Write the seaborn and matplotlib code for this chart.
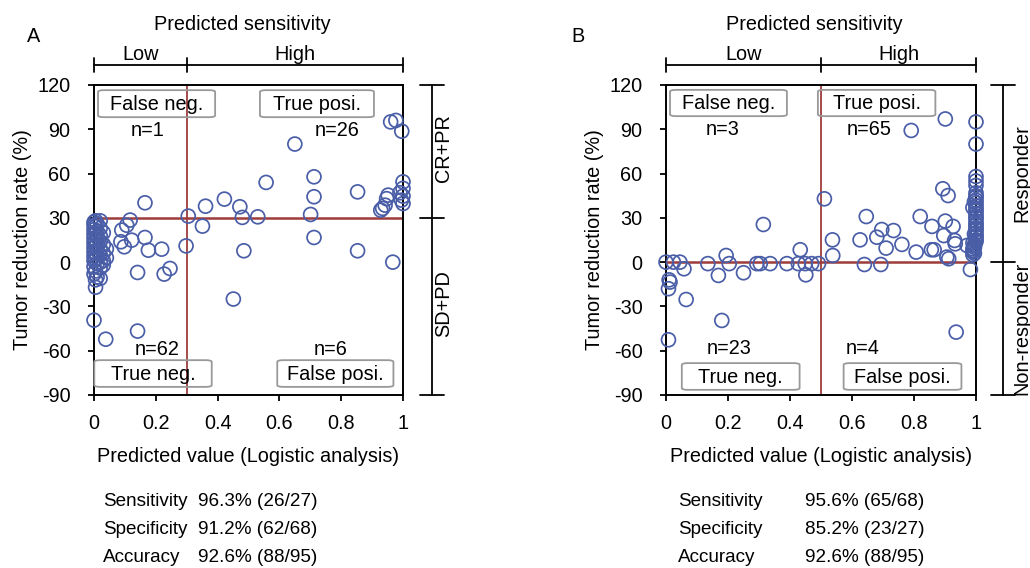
import numpy as np
import pandas as pd
import matplotlib
matplotlib.use("Agg")
import matplotlib.pyplot as plt
import seaborn as sns
from matplotlib.patches import FancyBboxPatch

# ---- data: panel A (cut-off 0.3 / 30 %) ----
a_pred = [
    # dense cluster near 0
    0, 0, 0, 0, 0, 0, 0, 0, 0, 0, 0, 0,
    0.005, 0.005, 0.005, 0.005, 0.005, 0.005, 0.005, 0.005, 0.005, 0.005,
    0.01, 0.01, 0.01, 0.01, 0.01, 0.01, 0.01, 0.01,
    0.02, 0.02, 0.02, 0.02, 0.02, 0.02, 0.02, 0.02, 0.02,
    0.03, 0.03, 0.03, 0.03, 0.03,
    0.04, 0.04,
    # other true negatives
    0.09, 0.106, 0.117, 0.087, 0.098, 0.122, 0.165, 0.176, 0.219, 0.141,
    0.227, 0.246, 0.298, 0.141, 0.038, 0.0,
    # false negative
    0.165,
    # true positives
    0.305, 0.361, 0.422, 0.472, 0.48, 0.53, 0.557, 0.65, 0.701, 0.712, 0.712,
    0.853, 0.928, 0.934, 0.942, 0.947, 0.952, 0.96, 0.977, 0.996,
    1.0, 1.0, 1.0, 1.0, 0.99, 0.995,
    # false positives
    0.351, 0.485, 0.451, 0.712, 0.853, 0.967,
]
a_red = [
    27, 25, 22, 19, 16, 13, 10, 7, 4, 1, -3, -8,
    28, 24, 20, 15, 11, 6, 2, -6, -12, -17,
    26, 21, 17, 12, 8, 3, -1, -10,
    28, 23, 18, 14, 9, 5, 0, -4, -11,
    20, 12, 6, 1, -2,
    9, 3,
    21.7, 25, 28.5, 13.8, 10.4, 14.9, 16.7, 8.1, 8.8, -7,
    -8.1, -4.3, 11, -46.7, -52.2, -39.3,
    40.2,
    31.2, 37.9, 42.7, 37.5, 30.3, 30.7, 54, 80, 32.3, 44.3, 57.8,
    47.6, 35.2, 36.4, 38.6, 43, 45.4, 95, 96, 88.7,
    54.4, 50, 44.7, 39.7, 47, 42,
    24.4, 7.7, -25, 16.7, 7.7, 0,
]

# ---- data: panel B (cut-off 0.5 / 0 %) ----
b_pred = [
    # true negatives
    0, 0.01, 0.013, 0.008, 0.008, 0.024, 0.045, 0.058, 0.065, 0.135, 0.169,
    0.204, 0.18, 0.25, 0.293, 0.304, 0.336, 0.39, 0.427, 0.449, 0.451, 0.47, 0.492,
    # false negatives
    0.194, 0.314, 0.433,
    # true positives
    0.511, 0.537, 0.538, 0.626, 0.646, 0.68, 0.696, 0.71, 0.734, 0.761, 0.791,
    0.807, 0.82, 0.858, 0.856, 0.865, 0.893, 0.901, 0.91, 0.901, 0.896, 0.906,
    0.912, 0.926, 0.931, 0.933, 0.971,
    1.0, 1.0, 1.0, 1.0, 1.0, 1.0, 1.0, 1.0, 1.0, 1.0, 1.0, 1.0, 1.0,
    1.0, 1.0, 1.0, 1.0, 1.0, 1.0, 1.0, 1.0, 1.0, 1.0, 1.0, 1.0, 1.0,
    0.995, 0.995, 0.995, 0.99, 0.99, 0.99, 0.995, 0.99, 0.995, 0.99, 0.995, 0.99,
    # false positives
    0.64, 0.693, 0.936, 0.982,
]
b_red = [
    0, -12, -13.5, -18, -52.6, 0, 0, -4.5, -25.3, -1, -9,
    -1, -39.5, -7.2, -1, -1, -1, -1, -1, -1, -8.6, -1, -1,
    4.5, 25.5, 8.4,
    42.9, 15.1, 4.5, 15.1, 30.9, 16.9, 22.1, 9.5, 21.4, 12, 89.2,
    6.8, 30.9, 24.2, 8.4, 8.4, 49.7, 97, 45.1, 27.8, 18, 3.4,
    2.3, 24.2, 14.7, 12.4, 11.3,
    95, 80, 58, 55, 52, 47, 45, 44, 42, 40, 38, 36, 35,
    33, 31, 30, 28, 26, 25, 23, 22, 20, 18, 17, 15, 14,
    12, 11, 10, 9, 8, 7, 6, 5, 41, 37, 19, 13,
    -1.6, -1.6, -47.4, -5,
]

quad_names = ["False neg.", "True posi.", "True neg.", "False posi."]
a_counts = ["n=1", "n=26", "n=62", "n=6"]
b_counts = ["n=3", "n=65", "n=23", "n=4"]
a_groups = ["CR+PR", "SD+PD"]
b_groups = ["Responder", "Non-responder"]
stat_names = ["Sensitivity", "Specificity", "Accuracy"]
a_stats = ["96.3% (26/27)", "91.2% (62/68)", "92.6% (88/95)"]
b_stats = ["95.6% (65/68)", "85.2% (23/27)", "92.6% (88/95)"]

BLUE = "#4a5ea8"
RED = "#9e3b3b"
FS = 14.3

sns.set_style("ticks")
plt.rcParams['font.family'] = ['Liberation Sans', 'DejaVu Sans']
plt.rcParams['axes.unicode_minus'] = False
for key in ["text.color", "axes.labelcolor", "xtick.color", "ytick.color"]:
    plt.rcParams[key] = "black"

fig = plt.figure(figsize=(10.3, 5.68), dpi=100)
axA = fig.add_axes([94 / 1030, 1 - 395 / 568, 309 / 1030, 310 / 568])
axB = fig.add_axes([666 / 1030, 1 - 395 / 568, 310 / 1030, 310 / 568])


def draw_panel(ax, pred, red, xcut, ycut, counts, groups, boxes, npos, bx, lx, gy):
    df = pd.DataFrame({"pred": pred, "red": red})
    ax.axvline(xcut, color=RED, lw=1.3, zorder=2)
    ax.axhline(ycut, color=RED, lw=1.8, zorder=2)
    sns.scatterplot(data=df, x="pred", y="red", ax=ax, s=100, marker="o",
                    facecolors="none", edgecolor=BLUE, linewidth=1.25,
                    clip_on=False, zorder=3)
    ax.set_xlim(0, 1)
    ax.set_ylim(-90, 120)
    ax.set_xticks([0, 0.2, 0.4, 0.6, 0.8, 1])
    ax.set_xticklabels(["0", "0.2", "0.4", "0.6", "0.8", "1"])
    ax.set_yticks(np.arange(-90, 121, 30))
    ax.tick_params(axis="x", length=4, width=1.3, pad=10, labelsize=FS)
    ax.tick_params(axis="y", length=4, width=1.3, pad=13, labelsize=FS)
    for sp in ax.spines.values():
        sp.set_visible(True)
        sp.set_linewidth(1.4)
        sp.set_color("black")
    ax.set_xlabel("Predicted value (Logistic analysis)", fontsize=FS, labelpad=10)
    ax.set_ylabel("Tumor reduction rate (%)", fontsize=FS, labelpad=4)

    # quadrant boxes
    for name, (x0, x1, y0, y1) in zip(quad_names, boxes):
        ax.add_patch(FancyBboxPatch((x0, y0), x1 - x0, y1 - y0,
                                    boxstyle="round,pad=0,rounding_size=0.02",
                                    mutation_aspect=60, fc="none", ec="#999999",
                                    lw=1.3, zorder=4, clip_on=False))
        ax.text((x0 + x1) / 2, (y0 + y1) / 2 - 0.5, name, ha="center", va="center",
                fontsize=FS, zorder=5)
    for lab, (tx, ty) in zip(counts, npos):
        ax.text(tx, ty, lab, ha="center", va="center", fontsize=FS, zorder=5)

    # top bracket: predicted sensitivity
    kw = dict(color="black", lw=1.3, clip_on=False)
    ax.plot([0, 1], [133.5, 133.5], **kw)
    for xv in [0, xcut, 1]:
        ax.plot([xv, xv], [128.5, 138.5], **kw)
    ax.text(xcut / 2, 140.5, "Low", ha="center", va="center", fontsize=FS)
    ax.text((xcut + 1) / 2, 140.5, "High", ha="center", va="center", fontsize=FS)
    ax.text(0.48, 161, "Predicted sensitivity", ha="center", va="center", fontsize=FS)

    # right bracket: response groups
    ax.plot([bx, bx], [-90, 120], **kw)
    for yv in [120, ycut, -90]:
        ax.plot([bx - 0.038, bx + 0.038], [yv, yv], **kw)
    for lab, gyv in zip(groups, gy):
        ax.text(lx, gyv, lab, rotation=90, ha="center", va="center",
                fontsize=FS)


draw_panel(axA, a_pred, a_red, 0.3, 30, a_counts, a_groups,
           [(0.013, 0.392, 98.2, 116.5), (0.537, 0.906, 98.2, 116.5),
            (0.001, 0.381, -84.5, -66.4), (0.593, 0.969, -84.5, -66.4)],
           [(0.175, 89), (0.786, 89), (0.203, -59), (0.767, -59)],
           1.094, 1.132, [77, -28])
draw_panel(axB, b_pred, b_red, 0.5, 0, b_counts, b_groups,
           [(0.013, 0.39, 98.9, 116.7), (0.49, 0.869, 98.9, 116.7),
            (0.051, 0.431, -86.5, -68.4), (0.573, 0.953, -86.5, -68.4)],
           [(0.183, 89.6), (0.656, 89.6), (0.204, -58.7), (0.634, -58.7)],
           1.087, 1.147, [60, -45])

fig.text(27 / 1030, 1 - 37 / 568, "A", fontsize=FS, va="center")
fig.text(571 / 1030, 1 - 37 / 568, "B", fontsize=FS, va="center")

for i, (nm, sa, sb) in enumerate(zip(stat_names, a_stats, b_stats)):
    yy = 1 - (502 + 28 * i) / 568
    fig.text(103 / 1030, yy, nm, fontsize=13.6, va="center")
    fig.text(198 / 1030, yy, sa, fontsize=13.6, va="center")
    fig.text(678 / 1030, yy, nm, fontsize=13.6, va="center")
    fig.text(805 / 1030, yy, sb, fontsize=13.6, va="center")

fig.savefig("out.png", dpi=100)
